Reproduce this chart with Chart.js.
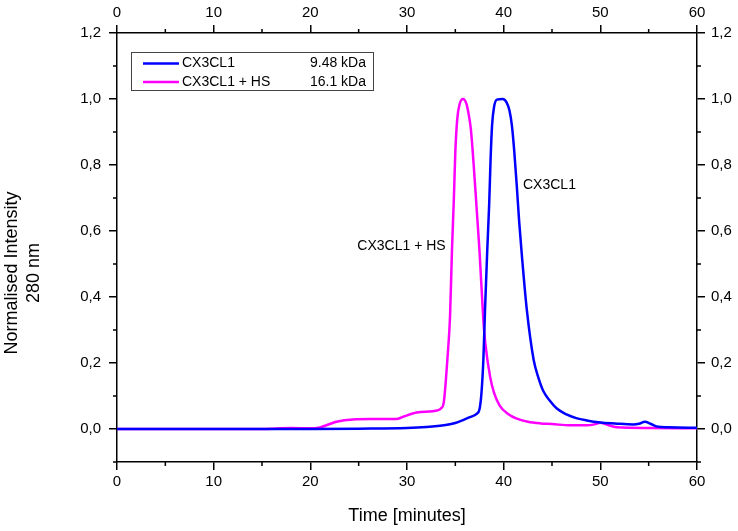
<!DOCTYPE html>
<html>
<head>
<meta charset="utf-8">
<script src="https://cdn.jsdelivr.net/npm/chart.js@4"></script>
<style>
  html, body { margin: 0; padding: 0; background: #fff; }
  #wrap { width: 738px; height: 531px; position: relative; }
</style>
</head>
<body>
<div id="wrap"><canvas id="chart"></canvas></div>
<script>
// elution profiles (time in minutes, normalised intensity)
const blueTime  = [0,20,25,30,32,34,35,35.8,36.5,37.2,37.5,37.7,37.9,38.07,38.3,38.5,38.65,38.8,39.0,39.3,39.9,40.3,40.6,40.85,41.1,41.35,41.6,41.9,42.4,43.1,43.6,44.1,44.8,45.5,46.5,47.5,48.6,50,51.5,53.4,54,54.6,55.2,55.8,57,60];
const blueValue = [0,0,0.001,0.003,0.006,0.012,0.018,0.027,0.036,0.046,0.06,0.108,0.21,0.36,0.54,0.68,0.82,0.92,0.975,0.998,1.0,0.99,0.965,0.92,0.84,0.74,0.63,0.52,0.36,0.21,0.155,0.115,0.085,0.062,0.044,0.033,0.026,0.02,0.017,0.014,0.016,0.022,0.016,0.008,0.005,0.004];

const hsTime  = [0,15,18,20,21,22,22.7,24.4,26.2,28.9,29.6,31,33.2,33.5,33.8,34.0,34.2,34.45,34.65,34.85,35.0,35.2,35.45,35.8,36.15,36.4,36.6,36.9,37.2,37.5,37.9,38.1,38.6,39.0,39.6,40.5,41.3,42.5,43.8,45,46.9,48.6,49.4,50,50.6,51.7,55,60];
const hsValue = [0,0,0.003,0.002,0.005,0.015,0.022,0.029,0.03,0.03,0.037,0.05,0.057,0.062,0.08,0.14,0.22,0.34,0.54,0.70,0.84,0.94,0.985,1.0,0.985,0.95,0.91,0.80,0.67,0.54,0.33,0.26,0.158,0.11,0.07,0.045,0.032,0.022,0.017,0.015,0.011,0.011,0.014,0.019,0.014,0.005,0.003,0.002];

const seriesNames = ["CX3CL1", "CX3CL1 + HS"];
const massLabels  = ["9.48 kDa", "16.1 kDa"];
const xTicks      = [0, 10, 20, 30, 40, 50, 60];
const xMinor      = [5, 15, 25, 35, 45, 55];
const yTicks      = [0, 0.2, 0.4, 0.6, 0.8, 1.0, 1.2];
const yMinor      = [-0.1, 0.1, 0.3, 0.5, 0.7, 0.9, 1.1];

const FONT = "'Liberation Sans', Arial, sans-serif";
const BLUE = "#0000ff", MAGENTA = "#ff00ff";

const pts = (xs, ys) => xs.map((x, i) => ({ x, y: ys[i] }));
const comma = v => v.toFixed(1).replace(".", ",");

function fixTicks(list) {
  return scale => { scale.ticks = list.map(v => ({ value: v })); };
}

function axisGrid() {
  return { drawOnChartArea: false, drawTicks: true, tickLength: 8, color: "#000", lineWidth: 1.5 };
}
const border = { display: true, color: "#000", width: 1.5 };

// minor ticks, legend box, peak labels, y title
const extras = {
  id: "extras",
  afterDraw(chart) {
    const { ctx, chartArea: a, scales } = chart;
    ctx.save();
    ctx.strokeStyle = "#000";
    ctx.lineWidth = 1.5;
    ctx.beginPath();
    xMinor.forEach(v => {
      const px = scales.x.getPixelForValue(v);
      ctx.moveTo(px, a.bottom); ctx.lineTo(px, a.bottom + 4);
      ctx.moveTo(px, a.top);    ctx.lineTo(px, a.top - 4);
    });
    yMinor.forEach(v => {
      const py = scales.y.getPixelForValue(v);
      ctx.moveTo(a.left, py);  ctx.lineTo(a.left - 4, py);
      ctx.moveTo(a.right, py); ctx.lineTo(a.right + 4, py);
    });
    ctx.stroke();

    // legend
    ctx.lineWidth = 1;
    ctx.strokeStyle = "#444";
    ctx.strokeRect(131.5, 52.5, 242, 38);
    ctx.font = "14px " + FONT;
    ctx.textBaseline = "middle";
    chart.data.datasets.forEach((ds, i) => {
      const y = 63.5 + i * 18.5;
      ctx.strokeStyle = ds.borderColor;
      ctx.lineWidth = 2.5;
      ctx.beginPath(); ctx.moveTo(143, y); ctx.lineTo(179, y); ctx.stroke();
      ctx.fillStyle = "#000";
      ctx.textAlign = "left";
      ctx.fillText(ds.label, 182, y);
      ctx.textAlign = "right";
      ctx.fillText(massLabels[i], 366, y);
    });

    // peak labels
    ctx.textAlign = "left";
    ctx.fillText(seriesNames[0], scales.x.getPixelForValue(42.0), scales.y.getPixelForValue(0.74));
    ctx.textAlign = "right";
    ctx.fillText(seriesNames[1], scales.x.getPixelForValue(34.0), scales.y.getPixelForValue(0.553));

    // y axis title (two lines)
    ctx.font = "18px " + FONT;
    ctx.textAlign = "center";
    ctx.translate(0, 273);
    ctx.rotate(-Math.PI / 2);
    ctx.fillText("Normalised Intensity", 0, 12);
    ctx.fillText("280 nm", 0, 34);
    ctx.restore();
  }
};

new Chart(document.getElementById("chart").getContext("2d"), {
  type: "line",
  data: {
    datasets: [
      { label: seriesNames[0], data: pts(blueTime, blueValue), borderColor: BLUE },
      { label: seriesNames[1], data: pts(hsTime, hsValue), borderColor: MAGENTA },
    ].map(d => ({ ...d, borderWidth: 2.5, pointRadius: 0, fill: false, cubicInterpolationMode: "monotone" })),
  },
  options: {
    responsive: true,
    maintainAspectRatio: false,
    animation: false,
    layout: { padding: 0 },
    plugins: { legend: { display: false }, tooltip: { enabled: false } },
    scales: {
      x: {
        type: "linear", position: "bottom", min: 0, max: 60,
        afterBuildTicks: fixTicks(xTicks),
        afterFit: s => { s.height = 69; },
        grid: axisGrid(), border,
        ticks: { color: "#000", font: { family: FONT, size: 15 }, padding: 3, maxRotation: 0 },
        title: { display: true, text: "Time [minutes]", color: "#000", font: { family: FONT, size: 18 }, padding: { top: 6 } },
      },
      x2: {
        type: "linear", position: "top", min: 0, max: 60,
        afterBuildTicks: fixTicks(xTicks),
        afterFit: s => { s.height = 33; },
        grid: axisGrid(), border,
        ticks: { color: "#000", font: { family: FONT, size: 15 }, padding: 3, maxRotation: 0 },
      },
      y: {
        type: "linear", position: "left", min: -0.1, max: 1.2,
        afterBuildTicks: fixTicks(yTicks),
        afterFit: s => { s.width = 117; },
        grid: axisGrid(), border,
        ticks: { color: "#000", font: { family: FONT, size: 15 }, padding: 8, callback: comma },
      },
      y2: {
        type: "linear", position: "right", min: -0.1, max: 1.2,
        afterBuildTicks: fixTicks(yTicks),
        afterFit: s => { s.width = 41; },
        grid: axisGrid(), border,
        ticks: { color: "#000", font: { family: FONT, size: 15 }, padding: 6, callback: comma },
      },
    },
  },
  plugins: [extras],
});
</script>
</body>
</html>
